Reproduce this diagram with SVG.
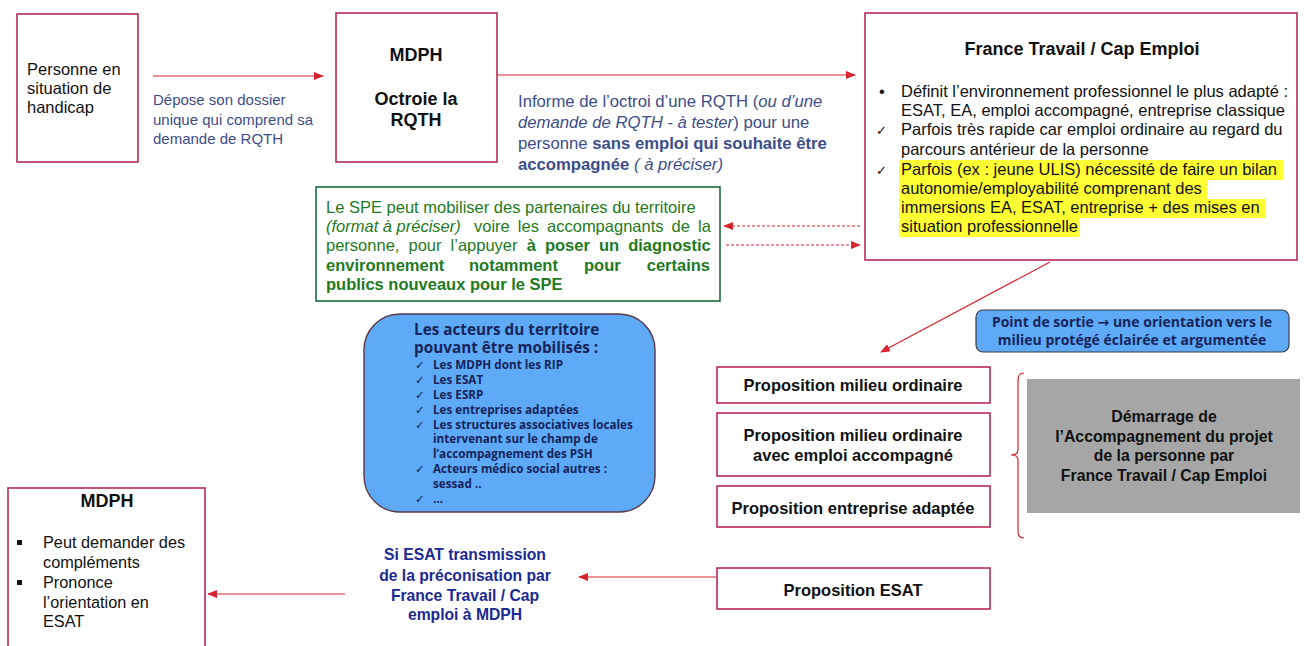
<svg xmlns="http://www.w3.org/2000/svg" width="1304" height="646" viewBox="0 0 1304 646">
<defs>
<marker id="ah" markerUnits="userSpaceOnUse" markerWidth="10" markerHeight="8" refX="9" refY="4" orient="auto">
<path d="M0,0 L10,4 L0,8 Z" fill="#d62430"/>
</marker>
<style>
.box{fill:#fff;stroke:#b82a52;stroke-width:1.6}
.t{font-family:"Liberation Sans",Arial,sans-serif;fill:#111}
.b{font-weight:bold}
.lbl{font-family:"Liberation Sans",Arial,sans-serif;fill:#3d4d8a;font-size:15px}
.grn{font-family:"Liberation Sans",Arial,sans-serif;fill:#1f7a22;font-size:16.5px}
.blu{font-family:"Open Sans","DejaVu Sans",sans-serif;fill:#16245a;font-weight:bold}
.ck{font-family:"DejaVu Sans",sans-serif}
.con{stroke:#d62430;stroke-width:1.2;fill:none}
.dash{stroke-dasharray:3,2}
.hl{fill:#ffff33}
.esat{font-family:"Liberation Sans",Arial,sans-serif;fill:#1c2a94;font-weight:bold;font-size:15.7px}
</style>
</defs>

<g id="connectors">
<line class="con" x1="153" y1="76" x2="323" y2="76" marker-end="url(#ah)"/>
<line class="con" x1="497" y1="75" x2="855" y2="75" marker-end="url(#ah)"/>
<line class="con dash" x1="860" y1="226" x2="724" y2="226" marker-end="url(#ah)"/>
<line class="con dash" x1="726" y1="245" x2="860" y2="245" marker-end="url(#ah)"/>
<line class="con" x1="1050" y1="262" x2="881" y2="352" marker-end="url(#ah)"/>
<line class="con" x1="716" y1="577" x2="579" y2="577" marker-end="url(#ah)"/>
<line class="con" x1="345" y1="594" x2="208" y2="594" marker-end="url(#ah)"/>
<path class="con" d="M1024,373 Q1018,373 1018,380 L1018,450 Q1018,455 1011,455 Q1018,455 1018,460 L1018,532 Q1018,538 1024,538" stroke-width="1"/>
</g>

<g id="personne">
<rect class="box" x="17" y="14" width="121" height="148"/>
<text class="t" font-size="16.5" x="27" y="75">Personne en</text>
<text class="t" font-size="16.5" x="27" y="94">situation de</text>
<text class="t" font-size="16.5" x="27" y="113">handicap</text>
</g>

<g id="label-depose">
<text class="lbl" x="153" y="105">Dépose son dossier</text>
<text class="lbl" x="153" y="125">unique qui comprend sa</text>
<text class="lbl" x="153" y="144">demande de RQTH</text>
</g>

<g id="mdph-top">
<rect class="box" x="336" y="13" width="161" height="149"/>
<text class="t b" font-size="18" x="416" y="61" text-anchor="middle">MDPH</text>
<text class="t b" font-size="18" x="416" y="105" text-anchor="middle">Octroie la</text>
<text class="t b" font-size="18" x="416" y="126" text-anchor="middle">RQTH</text>
</g>

<g id="label-informe">
<text class="lbl" style="font-size:16.7px" x="518" y="107">Informe de l’octroi d’une RQTH (<tspan font-style="italic">ou d’une</tspan></text>
<text class="lbl" style="font-size:16.7px" x="518" y="128"><tspan font-style="italic">demande de RQTH - à tester</tspan>)  pour une</text>
<text class="lbl" style="font-size:16.7px" x="518" y="149">personne <tspan class="b">sans emploi qui souhaite être</tspan></text>
<text class="lbl" style="font-size:16.7px" x="518" y="170"><tspan class="b">accompagnée</tspan> <tspan font-style="italic">( à préciser)</tspan></text>
</g>

<g id="france-travail">
<rect class="box" x="865" y="13" width="432" height="247"/>
<text class="t b" font-size="18" x="1082" y="55" text-anchor="middle">France Travail / Cap Emploi</text>
<rect class="hl" x="899" y="160" width="384" height="20"/>
<rect class="hl" x="899" y="180" width="308" height="19"/>
<rect class="hl" x="899" y="199" width="367" height="19"/>
<rect class="hl" x="899" y="218" width="180" height="19"/>
<g class="t" font-size="16.5">
<text x="879" y="97">•</text>
<text x="901" y="97">Définit l’environnement professionnel le plus adapté :</text>
<text x="901" y="116">ESAT, EA, emploi accompagné, entreprise classique</text>
<text class="ck" font-size="13" x="876" y="135">✓</text>
<text x="901" y="135">Parfois très rapide car emploi ordinaire au regard du</text>
<text x="901" y="155">parcours antérieur de la personne</text>
<text class="ck" font-size="13" x="876" y="175">✓</text>
<text x="901" y="175">Parfois (ex : jeune ULIS) nécessité de faire un bilan</text>
<text x="901" y="194">autonomie/employabilité comprenant des</text>
<text x="901" y="213">immersions EA, ESAT, entreprise + des mises en</text>
<text x="901" y="232">situation professionnelle</text>
</g>
</g>

<g id="spe">
<rect x="316" y="187" width="404" height="114" fill="#fff" stroke="#1b6b3a" stroke-width="1.6"/>
<text class="grn" x="326" y="213">Le SPE peut mobiliser des partenaires du territoire</text>
<text class="grn" x="326" y="232"><tspan font-style="italic">(format à préciser)</tspan></text>
<text class="grn" x="474" y="232" word-spacing="3.5">voire les accompagnants de la</text>
<text class="grn" x="326" y="251" word-spacing="4.5">personne, pour l’appuyer <tspan class="b">à poser un diagnostic</tspan></text>
<text class="grn b" y="271"><tspan x="326">environnement</tspan><tspan x="469">notamment</tspan><tspan x="584">pour</tspan></text>
<text class="grn b" x="710" y="271" text-anchor="end">certains</text>
<text class="grn b" x="326" y="290">publics nouveaux pour le SPE</text>
</g>

<g id="acteurs">
<rect x="364" y="314" width="291" height="198" rx="36" fill="#5eaaf7" stroke="#5a3848" stroke-width="1.4"/>
<text class="blu" font-size="15.3" x="414" y="335">Les acteurs du territoire</text>
<text class="blu" font-size="15.3" x="414" y="353">pouvant être mobilisés :</text>
<g font-size="11.7">
<text class="ck" fill="#16245a" x="415" y="369">✓</text><text class="blu" x="433" y="369">Les MDPH dont les RIP</text>
<text class="ck" fill="#16245a" x="415" y="384">✓</text><text class="blu" x="433" y="384">Les ESAT</text>
<text class="ck" fill="#16245a" x="415" y="399">✓</text><text class="blu" x="433" y="399">Les ESRP</text>
<text class="ck" fill="#16245a" x="415" y="414">✓</text><text class="blu" x="433" y="414">Les entreprises adaptées</text>
<text class="ck" fill="#16245a" x="415" y="429">✓</text><text class="blu" x="433" y="429">Les structures associatives locales</text>
<text class="blu" x="433" y="443">intervenant sur le champ de</text>
<text class="blu" x="433" y="458">l’accompagnement des PSH</text>
<text class="ck" fill="#16245a" x="415" y="473">✓</text><text class="blu" x="433" y="473">Acteurs médico social autres :</text>
<text class="blu" x="433" y="488">sessad ..</text>
<text class="ck" fill="#16245a" x="415" y="503">✓</text><text class="blu" x="433" y="503">…</text>
</g>
</g>

<g id="point-sortie">
<rect x="976" y="310" width="313" height="42" rx="7" fill="#5eaaf7" stroke="#3a3a4a" stroke-width="1.2"/>
<text class="blu" font-size="14" x="1132" y="327" text-anchor="middle">Point de sortie → une orientation vers le</text>
<text class="blu" font-size="14" x="1132" y="345" text-anchor="middle">milieu protégé éclairée et argumentée</text>
</g>

<g id="prop-ordinaire">
<rect class="box" x="717" y="367" width="273" height="36"/>
<text class="t b" font-size="16.5" x="853" y="391" text-anchor="middle">Proposition milieu ordinaire</text>
</g>
<g id="prop-accompagne">
<rect class="box" x="717" y="413" width="273" height="63"/>
<text class="t b" font-size="16.5" x="853" y="441" text-anchor="middle">Proposition milieu ordinaire</text>
<text class="t b" font-size="16.5" x="853" y="461" text-anchor="middle">avec emploi accompagné</text>
</g>
<g id="prop-ea">
<rect class="box" x="717" y="486" width="273" height="41"/>
<text class="t b" font-size="16.5" x="853" y="514" text-anchor="middle">Proposition entreprise adaptée</text>
</g>
<g id="prop-esat">
<rect class="box" x="717" y="568" width="273" height="41"/>
<text class="t b" font-size="16.5" x="853" y="596" text-anchor="middle">Proposition  ESAT</text>
</g>

<g id="demarrage">
<rect x="1027" y="379" width="273" height="134" fill="#a6a6a6"/>
<text class="t b" font-size="15.8" fill="#1a1a1a" x="1164" y="422" text-anchor="middle">Démarrage de</text>
<text class="t b" font-size="15.8" fill="#1a1a1a" x="1164" y="442" text-anchor="middle">l’Accompagnement du projet</text>
<text class="t b" font-size="15.8" fill="#1a1a1a" x="1164" y="461" text-anchor="middle">de la personne par</text>
<text class="t b" font-size="15.8" fill="#1a1a1a" x="1164" y="481" text-anchor="middle">France Travail / Cap Emploi</text>
</g>

<g id="label-esat">
<text class="esat" x="465" y="560" text-anchor="middle">Si ESAT transmission</text>
<text class="esat" x="465" y="581" text-anchor="middle">de la préconisation par</text>
<text class="esat" x="465" y="601" text-anchor="middle">France Travail / Cap</text>
<text class="esat" x="465" y="620" text-anchor="middle">emploi à MDPH</text>
</g>

<g id="mdph-bottom">
<rect class="box" x="8" y="488" width="197" height="170"/>
<text class="t b" font-size="18" x="107" y="507" text-anchor="middle">MDPH</text>
<g class="t" font-size="16.3">
<rect x="17" y="540" width="5" height="5" fill="#111"/>
<text x="43" y="548">Peut demander des</text>
<text x="43" y="568">compléments</text>
<rect x="17" y="580" width="5" height="5" fill="#111"/>
<text x="43" y="588">Prononce</text>
<text x="43" y="608">l’orientation en</text>
<text x="43" y="627">ESAT</text>
</g>
</g>
</svg>
